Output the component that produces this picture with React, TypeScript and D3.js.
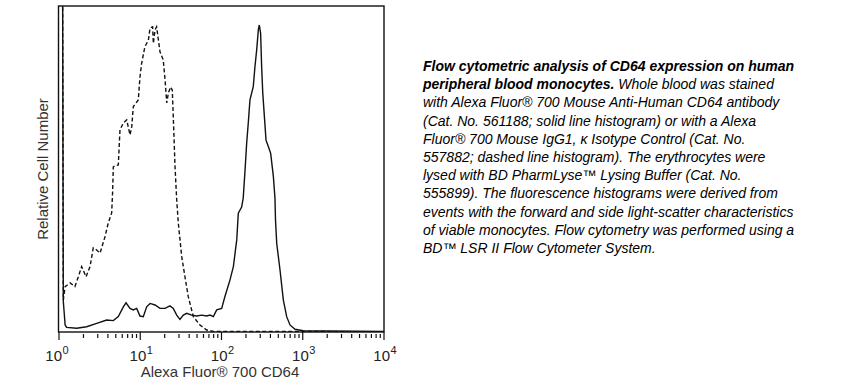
import { useMemo } from "react";
import * as d3 from "d3";

const width = 860;
const height = 391;

// plot frame
const left = 59;
const right = 384;
const top = 6;
const bottom = 332;

// CD64 stained (solid line histogram)
const cd64Fluor = [
  1.02, 1.06, 1.1, 1.13, 1.19, 1.24, 1.65, 2.19, 2.91, 3.86, 4.66, 5.37, 6.19, 6.68, 7.48, 8.21,
  9.04, 9.93, 10.9, 12.0, 13.2, 15.2, 17.5, 20.2, 23.2, 25.5, 28.1, 30.8, 33.9, 37.3, 43.0, 49.5,
  57.0, 65.7, 72.2, 79.3, 87.3, 100.5, 110, 127, 140, 154, 161, 177, 185, 195, 204, 214, 224, 246,
  258, 271, 284, 292, 303, 312, 322, 343, 353, 377, 403, 435, 455, 462, 478, 525, 577, 634, 697,
  803, 1016, 10000,
];
const cd64Count = [
  150, 150, 150, 10, 2.3, 1.5, 1.2, 1.7, 2.8, 3.9, 3.7, 5.0, 8.2, 9.5, 7.7, 7.2,
  7.7, 5.2, 5.0, 8.2, 9.3, 8.8, 7.7, 7.7, 8.5, 7.7, 5.5, 4.1, 5.5, 6.1, 5.5, 5.2,
  5.5, 5.2, 5.5, 5.0, 7.2, 7.7, 11.5, 16.9, 21.3, 30.0, 38.7, 40.7, 43.6, 52.8, 61.5, 68.4, 75.6, 79.9,
  86.4, 91.9, 98.4, 100, 97.3, 86.4, 77.8, 67.4, 62.5, 60.4, 58.2, 50.6, 43.6, 36.5, 28.9, 20.2, 10.4, 5.0, 2.3,
  0.9, 0.4, 0.2,
];

// isotype control (dashed line histogram)
const isoFluor = [
  1.08, 1.1, 1.13, 1.19, 1.37, 1.57, 1.73, 1.9, 2.15, 2.41, 2.64, 2.91, 3.2, 3.68, 4.04, 4.45,
  4.58, 4.66, 4.89, 5.37, 5.63, 6.19, 6.81, 7.48, 7.85, 8.21, 9.46, 9.93, 10.4, 11.4, 12.6, 13.2,
  14.2, 14.5, 15.2, 15.9, 17.5, 19.2, 20.2, 21.2, 22.2, 23.7, 24.8, 25.5, 26.8, 28.1, 29.4, 32.4,
  35.5, 39.0, 45.0, 54.3, 65.7, 79.3, 925, 10000,
];
const isoCount = [
  150, 150, 10.4, 14.8, 16.0, 14.8, 18.0, 21.3, 18.0, 21.3, 27.4, 26.7, 25.7, 31.0, 35.5, 38.8,
  46.3, 53.8, 54.1, 54.4, 65.8, 68.1, 69.1, 64.2, 66.8, 73.4, 75.6, 83.2, 87.5, 92.9, 95.1, 99.0,
  99.4, 94.0, 98.4, 99.4, 91.3, 88.6, 82.1, 74.6, 77.9, 79.8, 78.8, 70.1, 53.8, 43.0, 35.5, 24.5,
  18.0, 11.5, 5.0, 2.3, 0.65, 0.2, 0.2, 0,
];

const decades = [1, 10, 100, 1000, 10000];
const decadeExp = ["0", "1", "2", "3", "4"];

const captionBold1 = "Flow cytometric analysis of CD64 expression on human";
const captionBold2 = "peripheral blood monocytes.";
const captionLines = [
  " Whole blood was stained",
  "with Alexa Fluor® 700 Mouse Anti-Human CD64 antibody",
  "(Cat. No. 561188; solid line histogram) or with a Alexa",
  "Fluor® 700 Mouse IgG1, κ Isotype Control (Cat. No.",
  "557882; dashed line histogram). The erythrocytes were",
  "lysed with BD PharmLyse™ Lysing Buffer (Cat. No.",
  "555899). The fluorescence histograms were derived from",
  "events with the forward and side light-scatter characteristics",
  "of viable monocytes. Flow cytometry was performed using a",
  "BD™ LSR II Flow Cytometer System.",
];

const font = "'Liberation Sans', Arial, sans-serif";

export default function App() {
  const x = d3.scaleLog().domain([1, 10000]).range([left, right]);
  const y = d3.scaleLinear().domain([0, 100]).range([bottom, 25]);

  const line = d3
    .line<[number, number]>()
    .x((d) => x(d[0]))
    .y((d) => y(d[1]));

  const solidPath = useMemo(
    () => line(cd64Fluor.map((v, i) => [v, cd64Count[i]] as [number, number])),
    []
  );
  const dashedPath = useMemo(
    () => line(isoFluor.map((v, i) => [v, isoCount[i]] as [number, number])),
    []
  );

  const minor: number[] = [];
  decades.slice(0, -1).forEach((d) => {
    for (let k = 2; k <= 9; k++) minor.push(d * k);
  });

  const lineH = 18.2;
  const capX = 423;
  const capY = 71;

  return (
    <svg width={width} height={height} style={{ position: "absolute", left: 0, top: 0, background: "#fff" }}>
      <defs>
        <clipPath id="plot">
          <rect x={left} y={top} width={right - left} height={bottom - top} />
        </clipPath>
      </defs>
      <g clipPath="url(#plot)">
        <path d={dashedPath || ""} fill="none" stroke="#111" strokeWidth={1.4} strokeDasharray="4,2.5" />
        <path d={solidPath || ""} fill="none" stroke="#111" strokeWidth={1.4} />
      </g>
      <rect x={left - 0.5} y={top} width={right - left + 0.5} height={bottom - top} fill="none" stroke="#111" strokeWidth={1.4} />

      {/* x axis ticks */}
      {decades.map((d) => (
        <line key={"M" + d} x1={x(d)} x2={x(d)} y1={bottom} y2={bottom + 8} stroke="#111" strokeWidth={1.2} />
      ))}
      {minor.map((d) => (
        <line key={"m" + d} x1={x(d)} x2={x(d)} y1={bottom + 2} y2={bottom + 6} stroke="#111" strokeWidth={1.2} />
      ))}
      {decades.map((d, i) => (
        <text key={"t" + d} x={x(d) + (i === 0 ? -2 : 1)} y={361} textAnchor="middle" fontFamily={font} fontSize={15} fill="#222">
          10
          <tspan dx={0.5} dy={-7} fontSize={11}>
            {decadeExp[i]}
          </tspan>
        </text>
      ))}
      <text x={220} y={377} textAnchor="middle" fontFamily={font} fontSize={15} fill="#333">
        Alexa Fluor® 700 CD64
      </text>
      <text
        transform={`translate(48,${(top + bottom) / 2}) rotate(-90)`}
        textAnchor="middle"
        fontFamily={font}
        fontSize={15}
        fill="#333"
      >
        Relative Cell Number
      </text>

      {/* caption */}
      <g fontFamily={font} fontSize={14} fontStyle="italic" fill="#000">
        <text x={capX} y={capY} fontWeight="bold">
          {captionBold1}
        </text>
        <text x={capX} y={capY + lineH}>
          <tspan fontWeight="bold">{captionBold2}</tspan>
          <tspan>{captionLines[0]}</tspan>
        </text>
        {captionLines.slice(1).map((t, i) => (
          <text key={i} x={capX} y={capY + lineH * (i + 2)}>
            {t}
          </text>
        ))}
      </g>
    </svg>
  );
}
